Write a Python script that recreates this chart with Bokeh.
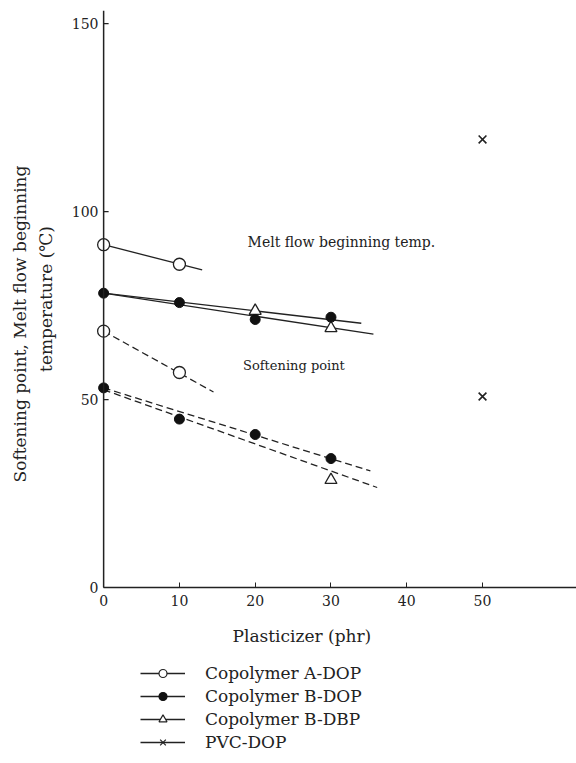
from bokeh.plotting import figure
from bokeh.layouts import column
from bokeh.models import Range1d, FixedTicker, Legend, LegendItem, Label, Title, Span
from bokeh.embed import file_html
from bokeh.resources import INLINE

# ---------------- data ----------------
x_ticks = [0, 10, 20, 30, 40, 50]
y_ticks = [0, 50, 100, 150]

# Melt flow beginning temperature (deg C)
a_dop_melt_x = [0, 10]
a_dop_melt_y = [91.2, 86.0]
b_dop_melt_x = [0, 10, 20, 30]
b_dop_melt_y = [78.3, 75.8, 71.3, 71.9]
b_dbp_melt_x = [20, 30]
b_dbp_melt_y = [73.6, 69.0]

# Softening point (deg C)
a_dop_soft_x = [0, 10]
a_dop_soft_y = [68.2, 57.2]
b_dop_soft_x = [0, 10, 20, 30]
b_dop_soft_y = [53.1, 44.8, 40.7, 34.3]
b_dbp_soft_x = [30]
b_dbp_soft_y = [28.6]

# PVC-DOP (melt flow, softening)
pvc_x = [50, 50]
pvc_y = [119.2, 50.8]

# trend lines drawn in the chart (end points)
a_dop_melt_fit_x = [0, 13.0]
a_dop_melt_fit_y = [91.2, 84.5]
b_dop_melt_fit_x = [0, 34.0]
b_dop_melt_fit_y = [78.3, 70.3]
b_dbp_melt_fit_x = [0, 35.6]
b_dbp_melt_fit_y = [78.3, 67.4]
a_dop_soft_fit_x = [0, 14.5]
a_dop_soft_fit_y = [68.2, 52.0]
b_dop_soft_fit_x = [0, 35.2]
b_dop_soft_fit_y = [53.1, 31.0]
b_dbp_soft_fit_x = [0, 36.1]
b_dbp_soft_fit_y = [52.6, 26.6]

legend_labels = ["Copolymer A-DOP", "Copolymer B-DOP", "Copolymer B-DBP", "PVC-DOP"]

# ---------------- styling ----------------
INK = "#222222"
FONT = "DejaVu Serif"
X_PX = 7.58          # pixels per phr, used for the inward tick length
TICK_LEN = 5 / X_PX
NAN = float("nan")

p = figure(width=576, height=662,
           x_range=Range1d(-1.6, 62.4), y_range=Range1d(0, 153.5),
           output_backend="svg", toolbar_location=None,
           min_border_left=91, min_border_right=0,
           min_border_top=10, min_border_bottom=75)
p.outline_line_color = None
p.grid.visible = False

ax = p.xaxis[0]
ax.ticker = FixedTicker(ticks=x_ticks)
ax.bounds = (0, 62.4)
ax.major_tick_in = 5
ax.major_tick_out = 0
ax.minor_tick_line_color = None
ax.major_label_standoff = 7
ax.major_label_text_font = FONT
ax.major_label_text_font_size = "14px"
ax.major_label_text_color = INK
ax.axis_line_color = INK
ax.axis_line_width = 1.5
ax.major_tick_line_color = INK

ay = p.yaxis[0]
ay.ticker = FixedTicker(ticks=y_ticks)
ay.axis_line_color = None
ay.major_tick_line_color = None
ay.minor_tick_line_color = None
ay.major_tick_in = 0
ay.major_tick_out = 0
ay.major_label_standoff = -7
ay.major_label_text_font = FONT
ay.major_label_text_font_size = "14px"
ay.major_label_text_color = INK
ay.axis_label = "temperature (℃)"
ay.axis_label_standoff = 13
ay.axis_label_text_font = FONT
ay.axis_label_text_font_size = "17px"
ay.axis_label_text_font_style = "normal"
ay.axis_label_text_color = INK

# the vertical axis line at phr = 0 and its inward ticks
p.add_layout(Span(location=0, dimension="height", line_color=INK, line_width=1.5))
p.segment(x0=[0] * len(y_ticks), y0=y_ticks, x1=[TICK_LEN] * len(y_ticks), y1=y_ticks,
          line_color=INK, line_width=1.2)

p.add_layout(Title(text="Softening point, Melt flow beginning", align="left", offset=105,
                   text_font=FONT, text_font_size="17px", text_font_style="normal",
                   text_color=INK, standoff=6), "left")
p.add_layout(Title(text="Plasticizer (phr)", align="left", offset=141,
                   text_font=FONT, text_font_size="17px", text_font_style="normal",
                   text_color=INK, standoff=30), "below")

# ---------------- lines ----------------
solid = dict(line_color=INK, line_width=1.3)
dashed = dict(line_color=INK, line_width=1.3, line_dash="7 4")
p.line(a_dop_melt_fit_x, a_dop_melt_fit_y, **solid)
p.line(b_dop_melt_fit_x, b_dop_melt_fit_y, **solid)
p.line(b_dbp_melt_fit_x, b_dbp_melt_fit_y, **solid)
p.line(a_dop_soft_fit_x, a_dop_soft_fit_y, **dashed)
p.line(b_dop_soft_fit_x, b_dop_soft_fit_y, **dashed)
p.line(b_dbp_soft_fit_x, b_dbp_soft_fit_y, **dashed)

# ---------------- markers ----------------
open_c = dict(marker="circle", size=12, fill_color="white", line_color=INK, line_width=1.3)
fill_c = dict(marker="circle", size=10, fill_color="#111111", line_color="#111111", line_width=1)
tri = dict(marker="triangle", size=12, fill_color="white", line_color=INK, line_width=1.3)
cross = dict(marker="x", size=11, line_color=INK, line_width=1.6)

p.scatter(a_dop_melt_x, a_dop_melt_y, **open_c)
p.scatter(a_dop_soft_x, a_dop_soft_y, **open_c)
p.scatter(b_dbp_melt_x, b_dbp_melt_y, **tri)
p.scatter(b_dbp_soft_x, b_dbp_soft_y, **tri)
p.scatter(b_dop_melt_x, b_dop_melt_y, **fill_c)
p.scatter(b_dop_soft_x, b_dop_soft_y, **fill_c)
p.scatter(pvc_x, pvc_y, **cross)

# ---------------- annotations ----------------
p.add_layout(Label(x=19.0, y=92.0, text="Melt flow beginning temp.", text_baseline="middle",
                   text_font=FONT, text_font_size="14px", text_color=INK))
p.add_layout(Label(x=18.4, y=59.0, text="Softening point", text_baseline="middle",
                   text_font=FONT, text_font_size="13px", text_color=INK))

# ---------------- legend (own strip below the chart; frames are aligned) ----------------
pl = figure(width=576, height=101, x_range=Range1d(0, 1), y_range=Range1d(0, 1),
            x_axis_type=None, y_axis_type=None,
            output_backend="svg", toolbar_location=None,
            min_border_left=0, min_border_right=0, min_border_top=0, min_border_bottom=0)
pl.grid.visible = False
pl.outline_line_color = None

leg_styles = [
    dict(marker="circle", fill_color="white", line_color=INK),
    dict(marker="circle", fill_color="#111111", line_color="#111111"),
    dict(marker="triangle", fill_color="white", line_color=INK),
    dict(marker="x", fill_color=None, line_color=INK),
]
items = []
for lab, st in zip(legend_labels, leg_styles):
    lr = pl.line(x=[NAN], y=[NAN], line_color=INK, line_width=1.3)
    mr = pl.scatter(x=[NAN], y=[NAN], size=8, line_width=1.2, **st)
    items.append(LegendItem(label=lab, renderers=[lr, mr]))

legend = Legend(items=items, location=(49, 11), orientation="vertical",
                border_line_color=None, background_fill_alpha=0,
                padding=0, margin=0, spacing=3,
                glyph_width=45, glyph_height=20, label_height=20, label_standoff=20,
                label_text_font=FONT, label_text_font_size="17px", label_text_color=INK)
pl.add_layout(legend)

layout = column(p, pl, spacing=0)
open("out.html", "w").write(file_html(layout, INLINE))
